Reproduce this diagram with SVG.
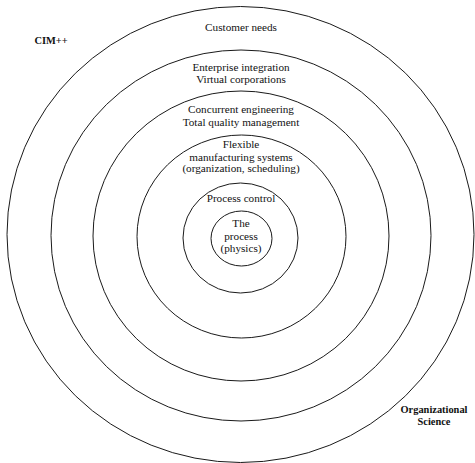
<svg xmlns="http://www.w3.org/2000/svg" width="475" height="463" viewBox="0 0 475 463">
<style>
.ring{fill:none;stroke:#1a1a1a;stroke-width:1}
.t{font-family:"Liberation Serif","Times New Roman",serif;font-size:11.2px;fill:#111;text-anchor:middle}
.b{font-family:"Liberation Serif","Times New Roman",serif;font-size:10.4px;font-weight:bold;fill:#111;text-anchor:middle}
</style>
<rect width="475" height="463" fill="#fff"/>
<g id="ring-customer"><ellipse class="ring" cx="240.5" cy="234.5" rx="233.5" ry="228"/>
<text class="t" x="241" y="31">Customer needs</text></g>
<g id="ring-enterprise"><ellipse class="ring" cx="241" cy="235.5" rx="190" ry="185.5"/>
<text class="t" x="241" y="71">Enterprise integration</text>
<text class="t" x="241" y="82.5">Virtual corporations</text></g>
<g id="ring-concurrent"><ellipse class="ring" cx="241" cy="236" rx="148" ry="145"/>
<text class="t" x="241" y="113">Concurrent engineering</text>
<text class="t" x="241" y="125.5">Total quality management</text></g>
<g id="ring-fms"><ellipse class="ring" cx="241.5" cy="236.5" rx="104.5" ry="101.5"/>
<text class="t" x="241" y="148">Flexible</text>
<text class="t" x="241" y="161">manufacturing systems</text>
<text class="t" x="241" y="172">(organization, scheduling)</text></g>
<g id="ring-control"><ellipse class="ring" cx="240.5" cy="238" rx="57.5" ry="55"/>
<text class="t" x="241" y="202">Process control</text></g>
<g id="ring-process"><ellipse class="ring" cx="241.5" cy="238.5" rx="30.5" ry="27.5"/>
<text class="t" x="241" y="227">The</text>
<text class="t" x="241" y="240">process</text>
<text class="t" x="241" y="252">(physics)</text></g>
<g id="label-cim"><text class="b" x="51" y="44">CIM++</text></g>
<g id="label-org"><text class="b" x="434" y="413">Organizational</text>
<text class="b" x="434" y="425">Science</text></g>
</svg>
